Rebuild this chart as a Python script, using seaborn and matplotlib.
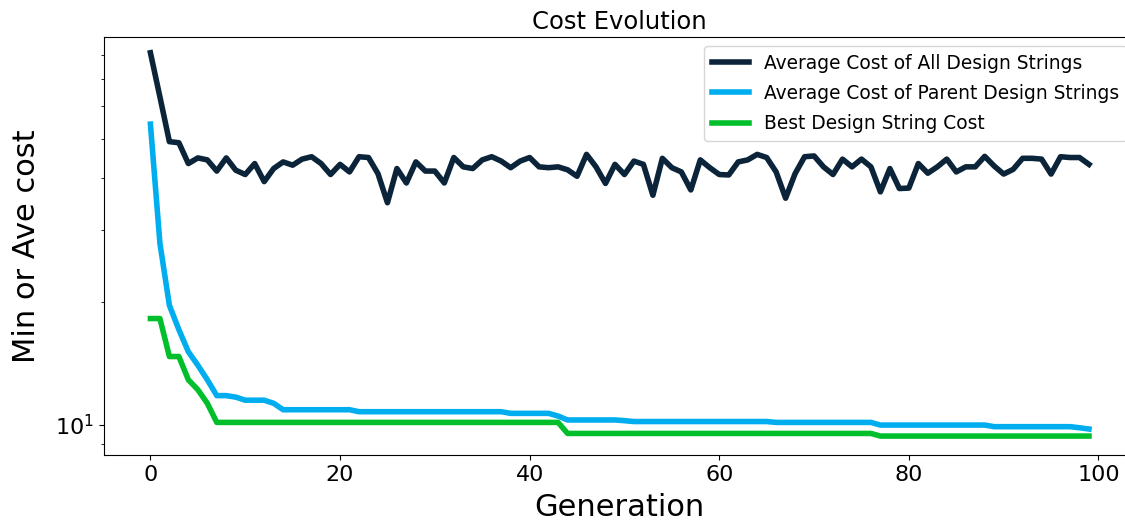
import numpy as np
import pandas as pd
import matplotlib
matplotlib.use("Agg")
import matplotlib.pyplot as plt
import matplotlib.ticker as mticker
import seaborn as sns

generations = list(range(100))

avg_all_cost = [
    81.1, 63.3, 49.2, 48.9, 43.5, 44.9, 44.4, 41.7, 44.9, 41.9,
    40.9, 43.5, 39.3, 42.3, 43.9, 43.1, 44.6, 45.2, 43.5, 40.9,
    43.3, 41.5, 45.2, 45.0, 41.1, 34.9, 42.3, 39.0, 43.9, 41.7,
    41.7, 39.0, 45.0, 42.7, 42.3, 44.4, 45.2, 44.1, 42.5, 44.1,
    45.0, 42.7, 42.5, 42.7, 42.0, 40.5, 45.8, 42.7, 38.9, 43.3,
    40.9, 44.1, 43.3, 36.4, 44.8, 42.5, 41.5, 37.5, 44.4, 42.5,
    40.9, 40.8, 43.9, 44.4, 45.8, 45.0, 41.5, 35.8, 41.1, 45.2,
    45.4, 42.7, 40.9, 44.6, 42.7, 44.6, 42.7, 37.1, 42.3, 37.8,
    37.9, 43.5, 41.2, 42.7, 44.6, 41.5, 42.7, 42.7, 45.3, 42.9,
    41.0, 42.1, 44.8, 44.8, 44.6, 41.0, 45.2, 45.0, 45.0, 43.3,
]

avg_parent_cost = [
    54.3, 27.8, 19.6, 17.1, 15.1, 14.0, 12.9, 11.8, 11.8, 11.7,
    11.5, 11.5, 11.5, 11.3, 10.9, 10.9, 10.9, 10.9, 10.9, 10.9,
    10.9, 10.9, 10.78, 10.78, 10.78, 10.78, 10.78, 10.78, 10.78, 10.78,
    10.78, 10.78, 10.78, 10.78, 10.78, 10.78, 10.78, 10.78, 10.68, 10.68,
    10.68, 10.68, 10.68, 10.52, 10.29, 10.29, 10.29, 10.29, 10.29, 10.29,
    10.25, 10.2, 10.2, 10.2, 10.2, 10.2, 10.2, 10.2, 10.2, 10.2,
    10.2, 10.2, 10.2, 10.2, 10.2, 10.2, 10.15, 10.15, 10.15, 10.15,
    10.15, 10.15, 10.15, 10.15, 10.15, 10.15, 10.15, 10.0, 10.0, 10.0,
    10.0, 10.0, 10.0, 10.0, 10.0, 10.0, 10.0, 10.0, 10.0, 9.91,
    9.91, 9.91, 9.91, 9.91, 9.91, 9.91, 9.91, 9.91, 9.85, 9.78,
]

best_cost = [
    18.2, 18.2, 14.7, 14.7, 12.9, 12.2, 11.3, 10.15, 10.15, 10.15,
    10.15, 10.15, 10.15, 10.15, 10.15, 10.15, 10.15, 10.15, 10.15, 10.15,
    10.15, 10.15, 10.15, 10.15, 10.15, 10.15, 10.15, 10.15, 10.15, 10.15,
    10.15, 10.15, 10.15, 10.15, 10.15, 10.15, 10.15, 10.15, 10.15, 10.15,
    10.15, 10.15, 10.15, 10.15, 9.54, 9.54, 9.54, 9.54, 9.54, 9.54,
    9.54, 9.54, 9.54, 9.54, 9.54, 9.54, 9.54, 9.54, 9.54, 9.54,
    9.54, 9.54, 9.54, 9.54, 9.54, 9.54, 9.54, 9.54, 9.54, 9.54,
    9.54, 9.54, 9.54, 9.54, 9.54, 9.54, 9.54, 9.40, 9.40, 9.40,
    9.40, 9.40, 9.40, 9.40, 9.40, 9.40, 9.40, 9.40, 9.40, 9.40,
    9.40, 9.40, 9.40, 9.40, 9.40, 9.40, 9.40, 9.40, 9.40, 9.40,
]

series_labels = [
    "Average Cost of All Design Strings",
    "Average Cost of Parent Design Strings",
    "Best Design String Cost",
]
series_colors = ["#0b2439", "#00aeef", "#00bf2a"]

df = pd.DataFrame({
    "Generation": generations,
    series_labels[0]: avg_all_cost,
    series_labels[1]: avg_parent_cost,
    series_labels[2]: best_cost,
})

fig = plt.figure(figsize=(11.25, 5.25), dpi=100)
ax = fig.add_axes([0.092, 0.1333, 0.9177, 0.7962])

for lab, col in zip(series_labels, series_colors):
    sns.lineplot(data=df, x="Generation", y=lab, ax=ax, color=col,
                 linewidth=4, label=lab)

ax.set_yscale("log")
ax.set_ylim(8.45, 88.6)
ax.yaxis.set_minor_formatter(mticker.NullFormatter())

ax.set_title("Cost Evolution", fontsize=17.5)
ax.set_xlabel("Generation", fontsize=22, labelpad=6)
ax.set_ylabel("Min or Ave cost", fontsize=22, labelpad=10)
ax.tick_params(axis="both", which="major", labelsize=16)

ax.legend(loc="upper right", fontsize=13.4, labelspacing=0.6)

fig.savefig("out.png", dpi=100)
